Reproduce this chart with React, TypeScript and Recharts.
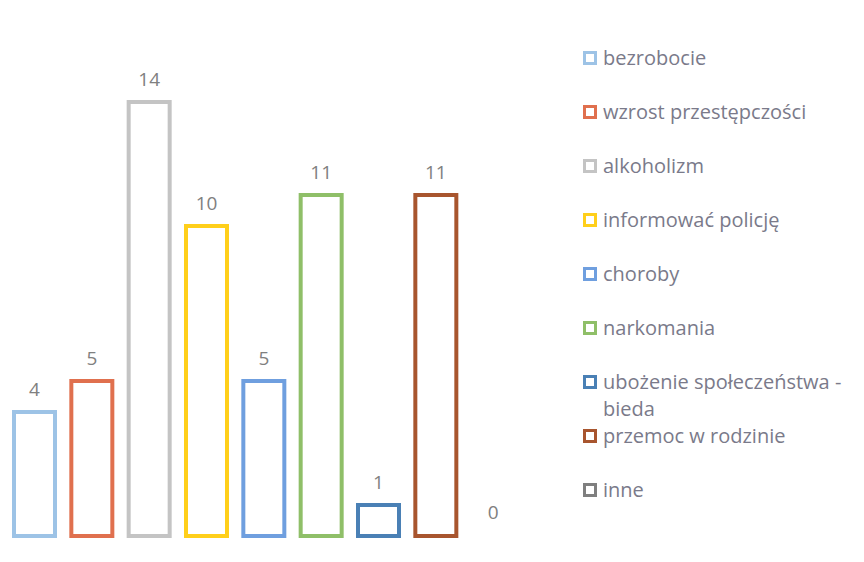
import React from "react";
import { Bar, BarChart, Cell, LabelList, XAxis, YAxis } from "recharts";

const categories: string[] = [
  "bezrobocie",
  "wzrost przestępczości",
  "alkoholizm",
  "informować policję",
  "choroby",
  "narkomania",
  "ubożenie społeczeństwa - bieda",
  "przemoc w rodzinie",
  "inne"
];

const counts: number[] = [4, 5, 14, 10, 5, 11, 1, 11, 0];

const colors: string[] = [
  "#9dc3e6",
  "#e0704e",
  "#c4c4c4",
  "#ffcf1a",
  "#6f9fdf",
  "#8fbf68",
  "#4a80b5",
  "#a8552e",
  "#7f7f7f"
];

const data = categories.map((name, i) => ({ name, value: counts[i] }));

const FONT = "'Open Sans', sans-serif";

const LegendList = () => (
  <div
    style={{
      position: "absolute",
      left: 583,
      top: 44,
      fontFamily: FONT,
      fontSize: 20,
      color: "#7a7a8a"
    }}
  >
    {categories.map((name, i) => (
      <div key={name} style={{ display: "flex", minHeight: 54, lineHeight: "27px" }}>
        <span
          style={{
            display: "inline-block",
            boxSizing: "border-box",
            width: 14,
            height: 14,
            marginTop: 7,
            marginRight: 6,
            flexShrink: 0,
            border: `3px solid ${colors[i]}`,
            background: "#fff"
          }}
        />
        <span style={{ width: 262 }}>{name}</span>
      </div>
    ))}
  </div>
);

const ValueLabel = (props: any) => {
  const { x, y, width, height, value } = props;
  const top = Math.min(y, y + height);
  return (
    <text
      x={x + width / 2}
      y={value === 0 ? y - 16 : top - 16}
      textAnchor="middle"
      fill="#808080"
      fontSize={19}
      fontFamily={FONT}
    >
      {value}
    </text>
  );
};

const App: React.FC = () => {
  return (
    <div style={{ position: "absolute", left: 0, top: 0, width: 864, height: 562, background: "#fff" }}>
      <BarChart
        width={864}
        height={562}
        data={data}
        barSize={41}
        margin={{ top: 102, right: 342, left: 6, bottom: 26 }}
      >
        <XAxis dataKey="name" hide />
        <YAxis hide domain={[0, 14]} />
        <Bar
          dataKey="value"
          fill="#fff"
          strokeWidth={4}
          minPointSize={1}
          isAnimationActive={false}
        >
          {data.map((d, i) => (
            <Cell key={d.name} stroke={d.value === 0 ? "none" : colors[i]} fill="#fff" />
          ))}
          <LabelList dataKey="value" content={<ValueLabel />} />
        </Bar>
      </BarChart>
      <LegendList />
    </div>
  );
};

export default App;
